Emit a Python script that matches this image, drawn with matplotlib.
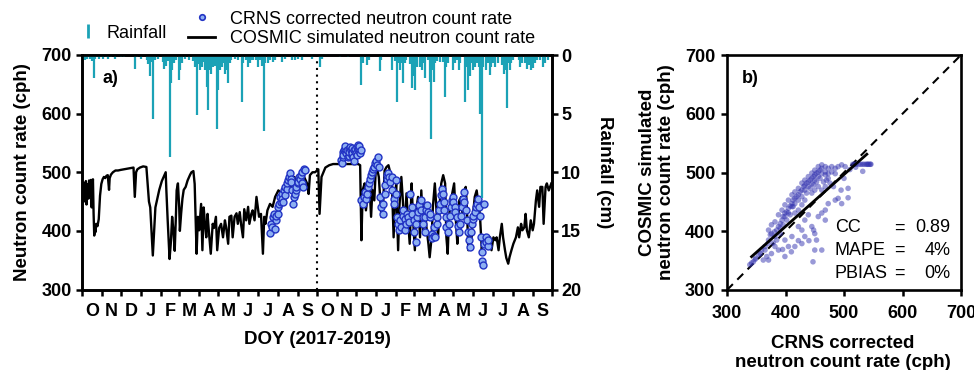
import numpy as np
import pandas as pd
import matplotlib
matplotlib.use("Agg")
import matplotlib.pyplot as plt
from matplotlib.lines import Line2D

plt.rcParams['font.family'] = ['Liberation Sans', 'DejaVu Sans']

# ---- data (day 0 = 1 Oct 2017) ----
start_date = '2017-10-01'
end_date = '2019-10-01'
month_letters = ['O', 'N', 'D', 'J', 'F', 'M', 'A', 'M', 'J', 'J', 'A', 'S'] * 2
water_year_split = 365

# COSMIC simulated neutron count rate (day, cph)
cosmic_pts = [
    (0, 475), (1, 455), (2, 482), (3, 450), (4, 478), (5, 460), (6, 485), (7, 445), (8, 470), (9, 480),
    (10, 455), (11, 486), (12, 460), (13, 470), (14, 487), (15, 440), (16, 475), (17, 488), (18, 430),
    (19, 392), (20, 405), (21, 398), (22, 412), (24, 408), (26, 420), (28, 460), (30, 480), (32, 488),
    (34, 492), (36, 490), (38, 494), (40, 495), (42, 470), (43, 490), (45, 496), (48, 500), (52, 503),
    (56, 503), (60, 504), (65, 505), (70, 506), (75, 507), (80, 508), (82, 458), (84, 500), (86, 505),
    (90, 508), (95, 510), (100, 509), (102, 480), (104, 450), (106, 440), (108, 400), (110, 358),
    (112, 400), (114, 440), (117, 455), (120, 470), (124, 485), (128, 495), (130, 500), (131, 470),
    (133, 420), (136, 352), (138, 380), (140, 424), (142, 400), (144, 366), (146, 430), (147, 469),
    (149, 481), (151, 440), (152, 400), (154, 430), (156, 455), (158, 470), (161, 475), (164, 486),
    (168, 496), (170, 500), (173, 502), (175, 480), (177, 400), (178, 361), (180, 424), (182, 401),
    (185, 446), (187, 367), (189, 440), (191, 412), (193, 389), (195, 429), (197, 400), (200, 361),
    (203, 412), (205, 405), (208, 424), (210, 367), (213, 405), (216, 412), (219, 389), (222, 418),
    (224, 405), (227, 378), (229, 424), (232, 426), (234, 389), (237, 424), (240, 430), (242, 412),
    (245, 432), (247, 412), (250, 389), (252, 437), (255, 418), (258, 441), (260, 412), (263, 429),
    (265, 435), (268, 418), (271, 458), (273, 441), (275, 424), (278, 429), (281, 361), (283, 424),
    (285, 412), (288, 435), (292, 446), (296, 441), (300, 458), (305, 469), (310, 464), (315, 476),
    (320, 481), (325, 475), (330, 492), (335, 469), (340, 486), (345, 492), (350, 480), (352, 463),
    (354, 495), (358, 500), (362, 500), (365, 503), (367, 505), (369, 429), (372, 492), (375, 500),
    (378, 508), (384, 512), (390, 514), (400, 514), (410, 514), (420, 514), (429, 514), (432, 512),
    (434, 384), (436, 470), (439, 481), (441, 435), (444, 464), (446, 492), (449, 424), (451, 470),
    (454, 452), (456, 498), (459, 503), (461, 492), (465, 424), (468, 452), (470, 503), (473, 509),
    (476, 512), (478, 503), (481, 492), (484, 389), (486, 452), (488, 481), (491, 367), (493, 441),
    (496, 492), (498, 458), (501, 401), (504, 464), (506, 424), (509, 378), (512, 481), (514, 424),
    (517, 367), (519, 435), (522, 458), (525, 389), (527, 469), (530, 401), (532, 446), (535, 406),
    (538, 378), (540, 355), (543, 389), (545, 441), (548, 481), (550, 446), (553, 389), (556, 452),
    (558, 481), (561, 495), (564, 481), (566, 389), (568, 361), (570, 424), (573, 452), (576, 469),
    (578, 481), (581, 412), (583, 378), (586, 452), (589, 458), (591, 424), (594, 469), (596, 475),
    (598, 435), (600, 367), (603, 401), (605, 389), (607, 424), (610, 458), (613, 469), (615, 452),
    (618, 429), (621, 367), (623, 389), (626, 378), (628, 392), (631, 384), (634, 389), (636, 367),
    (639, 389), (642, 384), (644, 389), (647, 367), (649, 389), (652, 412), (654, 389), (657, 367),
    (659, 354), (662, 344), (664, 355), (667, 367), (670, 378), (674, 389), (677, 406), (679, 389),
    (682, 412), (684, 401), (687, 406), (689, 429), (691, 401), (694, 389), (697, 418), (700, 401),
    (702, 412), (705, 452), (707, 469), (710, 441), (712, 475), (715, 475), (717, 412), (720, 475),
    (722, 481), (725, 469), (727, 475), (729, 481),
]

# CRNS corrected neutron count rate (day, cph)
crns_pts = [
    (292, 396), (293, 412), (295, 406), (297, 424), (298, 429), (300, 404), (301, 418), (302, 426),
    (304, 429), (305, 441), (306, 446), (307, 458), (309, 449), (310, 463), (311, 455), (312, 449),
    (314, 469), (315, 461), (316, 475), (318, 472), (319, 481), (320, 486), (322, 492), (323, 498),
    (324, 489), (325, 483), (326, 469), (328, 446), (329, 458), (331, 463), (332, 469), (333, 475),
    (335, 481), (336, 483), (337, 492), (338, 489), (340, 495), (341, 481), (342, 500), (344, 475),
    (345, 506), (346, 503),
    (403, 521), (404, 515), (405, 526), (406, 535), (406, 530), (407, 538), (408, 540), (409, 544),
    (410, 532), (411, 538), (413, 526), (414, 540), (414, 528), (415, 535), (416, 543), (418, 538),
    (419, 529), (419, 541), (420, 532), (421, 526), (422, 520), (423, 538), (424, 540), (426, 532),
    (427, 543), (427, 529), (428, 538), (429, 546), (431, 540), (431, 545), (432, 532), (433, 538),
    (434, 452), (436, 446), (438, 458), (440, 466), (441, 455), (443, 463), (444, 475), (446, 481),
    (447, 489), (449, 495), (450, 500), (452, 506), (454, 509), (455, 515), (457, 520), (458, 512),
    (460, 526), (461, 509), (463, 458), (465, 441), (467, 429), (468, 446), (470, 463), (471, 478),
    (473, 489), (474, 495), (476, 498), (477, 492), (479, 483), (481, 492), (482, 469), (484, 455),
    (485, 446), (487, 463), (488, 486), (490, 424), (491, 412), (493, 401), (494, 418), (496, 406),
    (498, 426), (499, 435), (501, 421), (502, 401), (504, 412), (505, 429), (507, 424), (508, 415),
    (510, 463), (512, 441), (513, 429), (515, 418), (516, 398), (518, 381), (519, 412), (521, 424),
    (522, 432), (524, 444), (526, 452), (527, 435), (529, 424), (530, 412), (532, 398), (533, 424),
    (535, 435), (536, 444), (538, 432), (540, 424), (541, 429), (543, 395), (544, 387), (546, 392),
    (547, 406), (549, 389), (551, 412), (552, 424), (554, 435), (556, 446), (557, 461), (559, 472),
    (560, 463), (562, 449), (563, 435), (565, 424), (566, 406), (568, 398), (570, 412), (571, 426),
    (573, 441), (574, 452), (576, 458), (577, 449), (579, 441), (580, 432), (582, 424), (584, 409),
    (585, 398), (587, 412), (588, 426), (590, 441), (591, 455), (593, 466), (594, 449), (596, 435),
    (598, 418), (599, 398), (601, 384), (602, 372), (604, 398), (605, 412), (607, 421), (608, 426),
    (610, 432), (612, 441), (613, 446), (615, 455), (616, 441), (618, 426), (619, 389), (621, 364),
    (622, 349), (623, 341), (624, 378), (625, 446), (627, 389), (628, 381), (630, 375), (631, 384),
]

# daily rainfall (day, cm)
rain_pts = [
    (1, 0.3), (3, 0.2), (5, 0.4), (7, 0.3), (9, 0.2), (12, 0.3), (15, 0.5), (18, 2.0), (20, 0.3),
    (23, 0.2), (26, 0.3), (29, 0.2), (33, 0.3), (37, 0.2), (41, 0.3), (45, 0.2), (52, 0.3), (60, 0.2),
    (66, 0.2), (82, 1.2), (86, 0.2), (92, 0.3), (101, 0.4), (103, 0.8), (106, 1.8), (108, 0.6),
    (110, 5.5), (113, 0.4), (118, 0.3), (126, 0.6), (128, 1.2), (130, 0.9), (133, 0.5), (136, 8.7),
    (138, 2.4), (140, 1.3), (143, 0.7), (146, 0.4), (150, 2.1), (152, 1.3), (155, 0.7), (160, 0.3),
    (166, 0.4), (172, 0.5), (176, 1.0), (178, 5.1), (181, 0.8), (184, 1.3), (186, 1.0), (188, 0.6),
    (191, 1.3), (194, 2.7), (196, 4.7), (199, 1.3), (201, 1.6), (204, 1.0), (206, 0.9), (209, 6.3),
    (212, 3.0), (214, 1.3), (217, 1.0), (219, 0.7), (222, 1.6), (224, 1.3), (227, 2.4), (230, 0.7),
    (232, 0.4), (237, 0.3), (243, 0.4), (248, 4.0), (250, 0.7), (255, 0.4), (258, 1.0), (261, 0.7),
    (264, 0.4), (266, 0.4), (271, 0.4), (274, 1.0), (276, 0.4), (279, 0.9), (282, 6.5), (284, 0.7),
    (289, 0.7), (292, 0.4), (297, 0.6), (300, 0.4), (310, 0.6), (315, 0.3), (326, 0.4), (331, 0.4),
    (336, 0.3), (341, 0.4), (357, 0.3),
    (370, 1.0), (372, 0.3), (400, 0.2), (413, 0.2), (434, 2.6), (437, 0.7), (442, 0.85), (445, 0.4),
    (463, 1.4), (465, 0.4), (481, 1.3), (486, 0.5), (489, 4.0), (491, 0.7), (494, 1.3), (496, 0.7),
    (499, 2.4), (502, 0.7), (504, 0.4), (509, 0.8), (512, 2.8), (515, 1.8), (517, 3.0), (520, 1.0),
    (525, 1.0), (528, 1.3), (530, 0.7), (533, 2.0), (538, 0.4), (540, 2.3), (542, 7.2), (544, 1.3),
    (546, 2.3), (548, 0.7), (551, 0.5), (556, 0.6), (561, 0.6), (564, 3.6), (566, 1.0), (569, 0.7),
    (577, 1.3), (579, 0.7), (582, 0.4), (585, 1.3), (587, 0.7), (595, 4.0), (597, 1.0), (600, 3.0),
    (603, 1.8), (605, 0.7), (608, 1.3), (610, 1.0), (613, 0.7), (616, 1.0), (618, 5.0), (621, 12.2),
    (623, 1.0), (628, 1.3), (631, 0.7), (634, 1.7), (636, 1.0), (639, 0.7), (642, 1.0), (646, 0.7),
    (652, 0.85), (655, 1.6), (657, 1.3), (660, 4.5), (662, 0.7), (665, 1.3), (667, 0.7), (670, 0.4),
    (678, 0.4), (680, 1.0), (683, 0.7), (688, 0.7), (691, 1.2), (695, 0.85), (698, 1.3), (701, 1.1),
    (704, 0.7), (707, 0.4), (711, 0.4), (716, 1.0), (719, 0.7), (724, 0.4),
]

# CRNS (x) vs COSMIC (y) pairs for the scatter panel
scatter_pts = [
    (345, 348), (349, 354), (354, 360), (359, 368), (365, 374), (371, 385), (374, 394), (376, 396),
    (381, 399), (385, 402), (388, 408), (391, 413), (394, 419), (396, 425), (399, 431), (402, 433),
    (405, 439), (408, 443), (411, 447), (413, 453), (416, 456), (419, 459), (422, 462), (425, 467),
    (428, 470), (431, 476), (433, 478), (436, 482), (439, 484), (442, 487), (445, 490), (448, 493),
    (450, 496), (453, 499), (456, 501), (459, 504), (462, 507), (468, 510), (473, 507), (479, 510),
    (485, 507), (490, 510), (496, 513), (502, 510),
    (382, 391), (391, 405), (399, 425), (405, 431), (411, 442), (416, 447), (422, 453), (428, 459),
    (433, 470), (439, 476), (445, 481), (450, 487), (456, 493), (462, 498), (468, 501), (473, 498),
    (479, 501), (485, 498), (428, 482), (433, 487), (439, 493), (445, 499), (450, 504), (456, 510),
    (462, 513), (468, 496), (473, 490), (422, 473), (416, 467), (411, 462), (405, 453), (399, 445),
    (394, 436), (388, 428), (382, 416), (376, 411), (371, 402), (436, 465), (442, 473), (448, 479),
    (453, 484), (459, 490), (465, 484), (470, 487), (476, 482), (482, 476), (445, 465), (450, 470),
    (456, 476), (462, 470), (468, 476), (428, 445), (433, 453), (422, 436), (416, 431), (413, 442),
    (408, 428), (402, 419), (396, 411), (391, 396), (385, 385), (379, 380),
    (399, 385), (411, 391), (422, 408), (428, 402), (433, 419), (439, 428), (445, 408), (456, 425),
    (462, 431), (468, 436), (473, 447), (485, 453), (490, 456), (496, 447), (450, 396), (448, 402),
    (462, 368), (428, 379), (416, 374), (450, 368), (382, 374), (370, 379), (468, 419), (453, 385),
    (433, 391), (405, 374), (388, 368), (376, 362), (368, 357), (365, 368), (357, 362),
    (342, 346), (339, 343), (348, 352), (362, 351), (371, 351), (399, 357), (410, 365),
    (507, 457), (507, 473), (532, 502), (447, 348), (440, 384), (422, 384), (395, 369), (500, 490),
    (510, 505), (520, 509), (495, 470),
    (515, 514), (518, 514), (521, 514), (526, 514), (529, 514), (532, 514), (535, 514), (538, 514),
    (540, 514), (541, 514), (543, 514), (545, 514), (546, 514),
]

fit_slope = 0.885
fit_intercept = 54.1
fit_range = (342, 539)
stats = [('CC', '0.89'), ('MAPE', '4%'), ('PBIAS', '0%')]

rain_color = '#1ba2b6'
crns_face = '#8db0f2'
crns_edge = '#2233c4'
scat_color = '#3434b0'

cosmic_day, cosmic_cph = zip(*cosmic_pts)
crns_day, crns_cph = zip(*crns_pts)
rain_day, rain_cm = zip(*rain_pts)
sc_x, sc_y = zip(*scatter_pts)

fig = plt.figure(figsize=(9.74, 3.70), dpi=100)
ax = fig.add_axes([82 / 974, 80.5 / 370, 470 / 974, 234.5 / 370])
ax2 = ax.twinx()
axb = fig.add_axes([727 / 974, 80 / 370, 234 / 974, 235 / 370])

# panel a
ax.plot(cosmic_day, cosmic_cph, color='black', lw=1.7, zorder=2)
ax.axvline(water_year_split, color='black', ls=(0, (1, 2.2)), lw=1.5, zorder=1)
ax.plot(crns_day, crns_cph, ls='none', marker='o', ms=5, mfc=crns_face, mec=crns_edge, mew=1.0, zorder=3)
ax.set_ylim(300, 700)
ax.set_yticks([300, 400, 500, 600, 700])

days = (pd.date_range(start_date, end_date, freq='MS') - pd.Timestamp(start_date)).days.values
ax.set_xlim(days[0], days[-1])
ax.set_xticks(days)
ax.set_xticklabels([])
ax.set_xticks((days[:-1] + days[1:]) / 2, minor=True)
ax.set_xticklabels(month_letters, minor=True)

ax2.vlines(rain_day, 0, rain_cm, color=rain_color, lw=1.6)
ax2.set_ylim(20, 0)
ax2.set_yticks([0, 5, 10, 15, 20])

for a in (ax, ax2, axb):
    for s in a.spines.values():
        s.set_linewidth(1.9)
    a.tick_params(which='major', length=4.5, width=1.8, direction='out', labelsize=13, pad=3)
    a.tick_params(which='minor', labelsize=13)
    for lab in a.get_xticklabels(which='both') + a.get_yticklabels():
        lab.set_fontweight('bold')
ax.tick_params(axis='x', which='minor', length=0, pad=10)
ax2.tick_params(axis='y', pad=2)

ax.text(0.043, 0.90, 'a)', transform=ax.transAxes, fontsize=13, fontweight='bold', va='center')

fig.text(23 / 974, 1 - 172 / 370, 'Neutron count rate (cph)', rotation=90, ha='center', va='center',
         fontsize=13.5, fontweight='bold')
fig.text(605 / 974, 1 - 172 / 370, 'Rainfall (cm)', rotation=270, ha='center', va='center',
         fontsize=13.5, fontweight='bold')
fig.text(317 / 974, 1 - 340 / 370, 'DOY (2017-2019)', ha='center', va='center',
         fontsize=13.5, fontweight='bold')

# legend
h_rain = Line2D([], [], color=rain_color, marker='|', ls='none', ms=10, mew=2)
h_crns = Line2D([], [], marker='o', ls='none', ms=4, mfc=crns_face, mec=crns_edge, mew=1.2)
h_cos = Line2D([], [], color='black', lw=2)
fig.legend([h_rain], ['Rainfall'], loc='center left', bbox_to_anchor=(79 / 974, 1 - 33 / 370),
           frameon=False, fontsize=13, handlelength=1.0, handletextpad=0.5, borderpad=0, borderaxespad=0)
fig.legend([h_crns, h_cos], ['CRNS corrected neutron count rate', 'COSMIC simulated neutron count rate'],
           loc='center left', bbox_to_anchor=(188 / 974, 1 - 29 / 370), frameon=False, fontsize=13,
           handlelength=1.5, handletextpad=0.8, labelspacing=0.15, borderpad=0, borderaxespad=0)

# panel b
axb.plot([300, 700], [300, 700], color='black', ls=(0, (4, 3)), lw=1.5, zorder=1)
axb.scatter(sc_x, sc_y, s=16, color=scat_color, alpha=0.5, edgecolors='none', zorder=2)
fx = np.array(fit_range)
axb.plot(fx, fit_slope * fx + fit_intercept, color='black', lw=2, zorder=3)
axb.set_xlim(300, 700)
axb.set_ylim(300, 700)
axb.set_xticks([300, 400, 500, 600, 700])
axb.set_yticks([300, 400, 500, 600, 700])
for lab in axb.get_xticklabels() + axb.get_yticklabels():
    lab.set_fontweight('bold')
axb.tick_params(axis='y', pad=4)
axb.tick_params(axis='x', pad=6)
axb.text(0.064, 0.90, 'b)', transform=axb.transAxes, fontsize=13, fontweight='bold', va='center')

for i, (name, val) in enumerate(stats):
    y = 0.264 - i * 0.097
    axb.text(0.46, y, name, transform=axb.transAxes, fontsize=13, va='center')
    axb.text(0.735, y, '=', transform=axb.transAxes, fontsize=13, va='center', ha='center')
    axb.text(0.955, y, val, transform=axb.transAxes, fontsize=13, va='center', ha='right')

fig.text(657 / 974, 1 - 172 / 370, 'COSMIC simulated\nneutron count rate (cph)', rotation=90,
         ha='center', va='center', fontsize=13.5, fontweight='bold', linespacing=1.15)
fig.text(843 / 974, 1 - 353 / 370, 'CRNS corrected\nneutron count rate (cph)', ha='center', va='center',
         fontsize=13.5, fontweight='bold', linespacing=1.2)

fig.savefig('out.png', dpi=100)
